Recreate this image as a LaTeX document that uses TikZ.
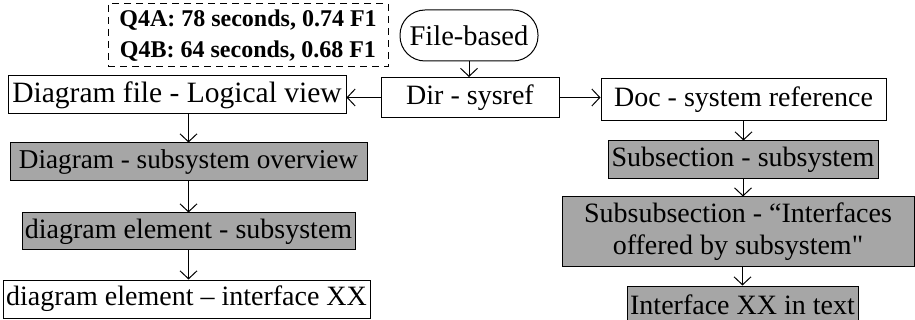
\documentclass[tikz,border=0pt]{standalone}
\usepackage{fontspec}
\setmainfont{Liberation Serif}[Ligatures=TeXOff]
\usetikzlibrary{arrows.meta}
\definecolor{boxgray}{RGB}{166,166,166}
\tikzset{
  box/.style={draw, line width=1pt, inner sep=0pt, align=center, font=\fontsize{28}{32}\selectfont},
  graybox/.style={box, fill=boxgray},
  arr/.style={line width=1pt, -{Straight Barb[length=8pt,width=17pt,line width=1pt]}},
}
\begin{document}
\begin{tikzpicture}[x=1pt,y=-1pt]
\useasboundingbox (0,0) rectangle (915,320);
\node[box, dash pattern=on 7pt off 5pt, minimum width=280, minimum height=63, font=\bfseries\fontsize{24}{31}\selectfont] (q) at (248,35.5) {Q4A: 78 seconds, 0.74 F1\\Q4B: 64 seconds, 0.68 F1};
\node[box, rounded corners=25pt, minimum width=138, minimum height=51, font=\fontsize{28.5}{32}\selectfont] (fb) at (469,35.5) {File-based};
\node[box, minimum width=178, minimum height=40] (dir) at (470,97.5) {Dir - sysref};
\node[box, minimum width=338, minimum height=38, font=\fontsize{29.5}{32}\selectfont] (dfile) at (177,95) {Diagram file - Logical view};
\node[box, minimum width=285, minimum height=42] (doc) at (743.5,100) {Doc - system reference};
\node[graybox, minimum width=357, minimum height=38, font=\fontsize{27.2}{32}\selectfont] (dso) at (188.5,162) {Diagram - subsystem overview};
\node[graybox, minimum width=333, minimum height=37] (des) at (188.5,231.5) {diagram element - subsystem};
\node[box, minimum width=367, minimum height=38] (dei) at (186.5,299) {diagram element – interface XX};
\node[graybox, minimum width=270, minimum height=38] (sub) at (743,160) {Subsection - subsystem};
\node[graybox, minimum width=352, minimum height=70] (ssub) at (738,232) {Subsubsection - “Interfaces\\offered by subsystem"};
\node[graybox, minimum width=231, minimum height=38] (ifx) at (742.5,305) {Interface XX in text};
\draw[arr] (fb.south) -- (fb.south |- dir.north);
\draw[arr] (dir.west) -- (dir.west -| dfile.east);
\draw[arr] (dir.east) -- (dir.east -| doc.west);
\draw[arr] (dfile.south -| dso.north) -- (dso.north);
\draw[arr] (dso.south) -- (dso.south |- des.north);
\draw[arr] (des.south) -- (des.south |- dei.north);
\draw[arr] (doc.south) -- (doc.south |- sub.north);
\draw[arr] (sub.south) -- (sub.south |- ssub.north);
\draw[arr] (ssub.south -| ifx.north) -- (ifx.north);
\end{tikzpicture}
\end{document}
